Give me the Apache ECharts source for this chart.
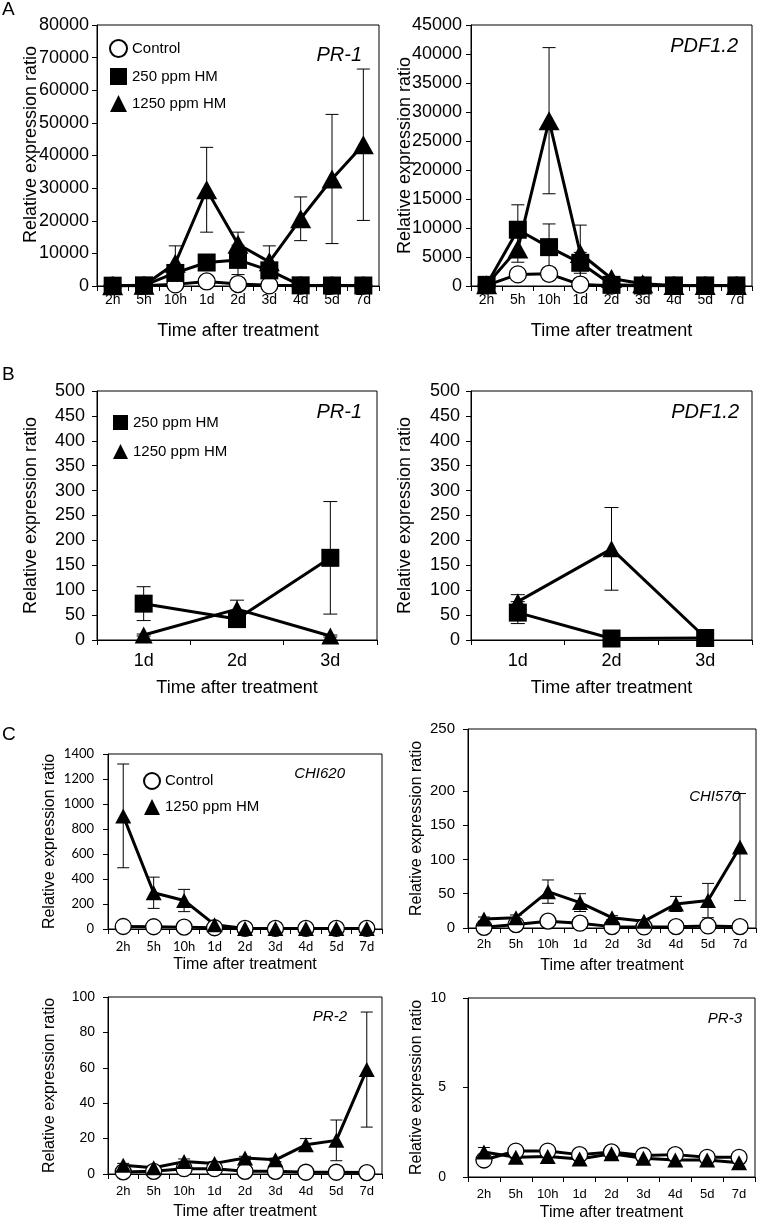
<!DOCTYPE html>
<html><head><meta charset="utf-8">
<script src="https://cdn.jsdelivr.net/npm/echarts@6/dist/echarts.min.js"></script>
<style>html,body{margin:0;padding:0;background:#fff}#c{width:761px;height:1221px}</style>
</head><body><div id="c"></div>
<script>
// ---------- categories ----------
const timeLabels = ['2h','5h','10h','1d','2d','3d','4d','5d','7d'];
const dayLabels = ['1d','2d','3d'];

// ---------- Panel A: PR-1 ----------
const aPR1Control   = [100, 100, 500, 1400, 600, 200, 100, 100, 100];
const aPR1Hm250     = [100, 200, 4000, 7200, 8000, 4800, 200, 150, 150];
const aPR1Hm250Err  = [0, 0, 2000, 1500, 4500, 2000, 0, 0, 0];
const aPR1Hm1250    = [100, 200, 7000, 29500, 12800, 7400, 20600, 32800, 43300];
const aPR1Hm1250Err = [0, 0, 5300, 13000, 3700, 4900, 6700, 19800, 23200];

// ---------- Panel A: PDF1.2 ----------
const aPDFControl   = [100, 2000, 2100, 250, 50, 50, 50, 50, 50];
const aPDFHm250     = [200, 9700, 6700, 4000, 200, 100, 100, 100, 100];
const aPDFHm250Err  = [0, 4300, 4000, 1800, 0, 0, 0, 0, 0];
const aPDFHm1250    = [200, 6400, 28500, 5600, 1300, 400, 100, 100, 100];
const aPDFHm1250Err = [0, 2300, 12600, 4900, 300, 0, 0, 0, 0];

// ---------- Panel B ----------
const bPR1Hm250     = [73, 42, 165];
const bPR1Hm250Err  = [34, 5, 113];
const bPR1Hm1250    = [10, 62, 8];
const bPR1Hm1250Err = [2, 18, 2];
const bPDFHm250     = [55, 3, 4];
const bPDFHm250Err  = [22, 0, 0];
const bPDFHm1250    = [77, 183, 5];
const bPDFHm1250Err = [14, 83, 0];

// ---------- Panel C ----------
const cCHI620Control   = [20, 18, 15, 10, 5, 5, 5, 5, 5];
const cCHI620Hm1250    = [905, 290, 228, 35, 5, 5, 5, 5, 5];
const cCHI620Hm1250Err = [415, 125, 89, 10, 0, 0, 0, 0, 0];
const cCHI570Control   = [1, 5, 10, 7, 2, 1.5, 2, 3, 2];
const cCHI570Hm1250    = [13, 15, 53, 37, 15, 10, 35, 40, 118];
const cCHI570Hm1250Err = [3, 4, 17, 13, 3, 2, 11, 25, 78];
const cPR2Control      = [1.2, 1.5, 3, 3, 1.5, 1.5, 1, 1, 0.8];
const cPR2Hm1250       = [5, 3.5, 7, 6, 9, 8, 16.5, 19, 59];
const cPR2Hm1250Err    = [1, 1, 1.5, 1, 1, 1, 3.5, 11.5, 32.5];
const cPR3Control      = [0.95, 1.45, 1.45, 1.25, 1.4, 1.2, 1.25, 1.1, 1.1];
const cPR3Hm1250       = [1.4, 1.1, 1.15, 1.0, 1.3, 1.05, 0.95, 0.95, 0.8];
const cPR3Hm1250Err    = [0.25, 0.05, 0.05, 0.05, 0.05, 0.05, 0.05, 0.05, 0.05];

// CHI570 y-axis tick values / labels (top label sits at the frame top in the original)
const chi570TickValues = [0, 50, 100, 150, 200, 290];
const chi570TickLabels = ['0', '50', '100', '150', '200', '250'];

const FONT = "'Liberation Sans', Arial, sans-serif";
const CAL = "Lato, 'Open Sans', sans-serif";
const X_NAME = 'Time after treatment';
const Y_NAME = 'Relative expression ratio';

function grid(l, t, w, h) {
  return { left: l, top: t, width: w, height: h, show: true, borderColor: '#000', borderWidth: 1,
           backgroundColor: 'transparent', containLabel: false, outerBoundsMode: 'none' };
}
function xAx(gi, labels, o) {
  return { type: 'category', gridIndex: gi, data: labels, boundaryGap: true,
    axisLine: { show: true, lineStyle: { color: '#000', width: 1 } },
    axisTick: { show: true, inside: false, length: 5, interval: 0, lineStyle: { color: '#000' } },
    axisLabel: { interval: 0, color: '#000', fontSize: o.fs, fontFamily: o.ff || FONT, margin: o.m },
    name: X_NAME, nameLocation: 'middle', nameGap: o.ng, nameMoveOverlap: false,
    nameTextStyle: { color: '#000', fontSize: o.nfs, fontFamily: FONT } };
}
function yAx(gi, max, interval, o) {
  return { type: 'value', gridIndex: gi, min: 0, max: max, interval: interval,
    splitLine: { show: false },
    axisLine: { show: true, lineStyle: { color: '#000', width: 1 } },
    axisTick: { show: true, inside: false, length: 5, lineStyle: { color: '#000' } },
    axisLabel: { color: '#000', fontSize: o.fs, fontFamily: o.ff || FONT, margin: o.m,
                 formatter: function (v) { return String(v); } },
    name: Y_NAME, nameLocation: 'middle', nameGap: o.ng, nameMoveOverlap: false,
    nameTextStyle: { color: '#000', fontSize: o.nfs, fontFamily: FONT } };
}
function lineS(name, data, gi, sym, size) {
  const circ = sym === 'circle';
  return { type: 'line', name: name, xAxisIndex: gi, yAxisIndex: gi, data: data,
    symbol: sym, symbolSize: size, showSymbol: true, showAllSymbol: true, silent: true,
    lineStyle: { color: '#000', width: 3 },
    itemStyle: { color: circ ? '#fff' : '#000', borderColor: '#000', borderWidth: circ ? 1.3 : 0 },
    emphasis: { disabled: true }, z: 2 };
}
function errS(values, errs, gi, cap) {
  return { type: 'custom', xAxisIndex: gi, yAxisIndex: gi, z: 1, silent: true,
    data: values.map((v, i) => [i, v, errs[i]]), encode: { x: 0, y: 1 },
    renderItem: function (params, api) {
      const i = api.value(0), v = api.value(1), e = api.value(2);
      if (!e) return null;
      const hi = api.coord([i, v + e]);
      const lo = api.coord([i, Math.max(0, v - e)]);
      const st = { stroke: '#000', lineWidth: 1 };
      return { type: 'group', children: [
        { type: 'line', shape: { x1: hi[0], y1: hi[1], x2: lo[0], y2: lo[1] }, style: st },
        { type: 'line', shape: { x1: hi[0] - cap, y1: hi[1], x2: hi[0] + cap, y2: hi[1] }, style: st },
        { type: 'line', shape: { x1: lo[0] - cap, y1: lo[1], x2: lo[0] + cap, y2: lo[1] }, style: st }
      ] };
    } };
}
function txt(text, x, y, font, align) {
  return { type: 'text', x: x, y: y, silent: true,
    style: { text: text, fill: '#000', font: font, align: align || 'left', verticalAlign: 'middle' } };
}

const TRI_A = [21, 19], SQ_A = 18, CI_A = 17;
const TRI_B = [18, 17], SQ_B = 18;
const TRI_C = [16, 15], CI_C = 16;

const chi570Y = yAx(5, 290, 50, { fs: 15, m: 13, ng: 43, nfs: 16 });
chi570Y.axisLabel.customValues = chi570TickValues;
chi570Y.axisTick.customValues = chi570TickValues;
chi570Y.axisLabel.formatter = function (v) {
  const k = chi570TickValues.indexOf(v);
  return k >= 0 ? chi570TickLabels[k] : '';
};
const aPR1Y = yAx(0, 80000, 10000, { fs: 18, m: 8, ng: 57, nfs: 18 });
aPR1Y.nameTextStyle.padding = [0, 0, 0, 22];

const option = {
  animation: false,
  backgroundColor: '#fff',
  grid: [
    grid(97, 25, 282, 261),   // A PR-1
    grid(471, 25, 281, 261),  // A PDF1.2
    grid(97, 391, 280, 249),  // B PR-1
    grid(471, 391, 281, 249), // B PDF1.2
    grid(108, 754, 274, 175), // C CHI620
    grid(468, 729, 288, 199), // C CHI570
    grid(108, 997, 274, 177), // C PR-2
    grid(468, 998, 287, 179)  // C PR-3
  ],
  xAxis: [
    xAx(0, timeLabels, { fs: 14, m: 7, ng: 36, nfs: 18 }),
    xAx(1, timeLabels, { fs: 14, m: 7, ng: 36, nfs: 18 }),
    xAx(2, dayLabels, { fs: 18, m: 12, ng: 39, nfs: 18 }),
    xAx(3, dayLabels, { fs: 18, m: 12, ng: 39, nfs: 18 }),
    xAx(4, timeLabels, { fs: 13, m: 11, ng: 28, nfs: 16, ff: CAL }),
    xAx(5, timeLabels, { fs: 13, m: 10, ng: 30, nfs: 16 }),
    xAx(6, timeLabels, { fs: 13, m: 11, ng: 30, nfs: 16 }),
    xAx(7, timeLabels, { fs: 13, m: 11, ng: 28, nfs: 16 })
  ],
  yAxis: [
    aPR1Y,
    yAx(1, 45000, 5000, { fs: 18, m: 9, ng: 57, nfs: 18 }),
    yAx(2, 500, 50, { fs: 18, m: 12, ng: 57, nfs: 18 }),
    yAx(3, 500, 50, { fs: 18, m: 11, ng: 57, nfs: 18 }),
    yAx(4, 1400, 200, { fs: 13, m: 14, ng: 50, nfs: 16, ff: CAL }),
    chi570Y,
    yAx(6, 100, 20, { fs: 14, m: 13, ng: 50, nfs: 16 }),
    yAx(7, 10, 5, { fs: 14, m: 22, ng: 43, nfs: 16 })
  ],
  legend: [
    { left: 104, top: 34, orient: 'vertical', itemWidth: 17, itemHeight: 17, itemGap: 10, selectedMode: false,
      textStyle: { fontSize: 15, color: '#000', fontFamily: FONT },
      data: [{ name: 'Control', icon: 'circle' }, { name: '250 ppm HM', icon: 'rect' }, { name: '1250 ppm HM', icon: 'triangle' }] },
    { left: 108, top: 410, orient: 'vertical', itemWidth: 15, itemHeight: 15, itemGap: 14, selectedMode: false,
      textStyle: { fontSize: 15, color: '#000', fontFamily: FONT },
      data: [{ name: '250 ppm HM', icon: 'rect' }, { name: '1250 ppm HM', icon: 'triangle' }] },
    { left: 138, top: 767, orient: 'vertical', itemWidth: 16, itemHeight: 16, itemGap: 9, selectedMode: false,
      textStyle: { fontSize: 15, color: '#000', fontFamily: FONT },
      data: [{ name: 'Control', icon: 'circle' }, { name: '1250 ppm HM', icon: 'triangle' }] }
  ],
  graphic: [
    txt('A', 2, 10, '19px ' + FONT),
    txt('B', 2, 375, '19px ' + FONT),
    txt('C', 2, 735, '19px ' + FONT),
    txt('PR-1', 362, 55, 'italic 20px ' + FONT, 'right'),
    txt('PDF1.2', 738, 46, 'italic 20px ' + FONT, 'right'),
    txt('PR-1', 362, 412, 'italic 20px ' + FONT, 'right'),
    txt('PDF1.2', 739, 412, 'italic 20px ' + FONT, 'right'),
    txt('CHI620', 345, 774, 'italic 15px ' + FONT, 'right'),
    txt('CHI570', 740, 797, 'italic 15px ' + FONT, 'right'),
    txt('PR-2', 347, 1017, 'italic 15px ' + FONT, 'right'),
    txt('PR-3', 742, 1019, 'italic 15px ' + FONT, 'right')
  ],
  series: [
    // A PR-1
    errS(aPR1Hm1250, aPR1Hm1250Err, 0, 6.5),
    errS(aPR1Hm250, aPR1Hm250Err, 0, 6.5),
    lineS('Control', aPR1Control, 0, 'circle', CI_A),
    lineS('1250 ppm HM', aPR1Hm1250, 0, 'triangle', TRI_A),
    lineS('250 ppm HM', aPR1Hm250, 0, 'rect', SQ_A),
    // A PDF1.2
    errS(aPDFHm1250, aPDFHm1250Err, 1, 6.5),
    errS(aPDFHm250, aPDFHm250Err, 1, 6.5),
    lineS('Control', aPDFControl, 1, 'circle', CI_A),
    lineS('250 ppm HM', aPDFHm250, 1, 'rect', SQ_A),
    lineS('1250 ppm HM', aPDFHm1250, 1, 'triangle', TRI_A),
    // B PR-1
    errS(bPR1Hm250, bPR1Hm250Err, 2, 7),
    errS(bPR1Hm1250, bPR1Hm1250Err, 2, 7),
    lineS('250 ppm HM', bPR1Hm250, 2, 'rect', SQ_B),
    lineS('1250 ppm HM', bPR1Hm1250, 2, 'triangle', TRI_B),
    // B PDF1.2
    errS(bPDFHm250, bPDFHm250Err, 3, 7),
    errS(bPDFHm1250, bPDFHm1250Err, 3, 7),
    lineS('1250 ppm HM', bPDFHm1250, 3, 'triangle', TRI_B),
    lineS('250 ppm HM', bPDFHm250, 3, 'rect', SQ_B),
    // C CHI620
    errS(cCHI620Hm1250, cCHI620Hm1250Err, 4, 6),
    lineS('Control', cCHI620Control, 4, 'circle', CI_C),
    lineS('1250 ppm HM', cCHI620Hm1250, 4, 'triangle', TRI_C),
    // C CHI570
    errS(cCHI570Hm1250, cCHI570Hm1250Err, 5, 6),
    lineS('Control', cCHI570Control, 5, 'circle', CI_C),
    lineS('1250 ppm HM', cCHI570Hm1250, 5, 'triangle', TRI_C),
    // C PR-2
    errS(cPR2Hm1250, cPR2Hm1250Err, 6, 6),
    lineS('Control', cPR2Control, 6, 'circle', CI_C),
    lineS('1250 ppm HM', cPR2Hm1250, 6, 'triangle', TRI_C),
    // C PR-3
    errS(cPR3Hm1250, cPR3Hm1250Err, 7, 6),
    lineS('Control', cPR3Control, 7, 'circle', CI_C),
    lineS('1250 ppm HM', cPR3Hm1250, 7, 'triangle', TRI_C)
  ]
};

const chart = echarts.init(document.getElementById('c'), null, { renderer: 'canvas' });
chart.setOption(option);
</script>
</body></html>
